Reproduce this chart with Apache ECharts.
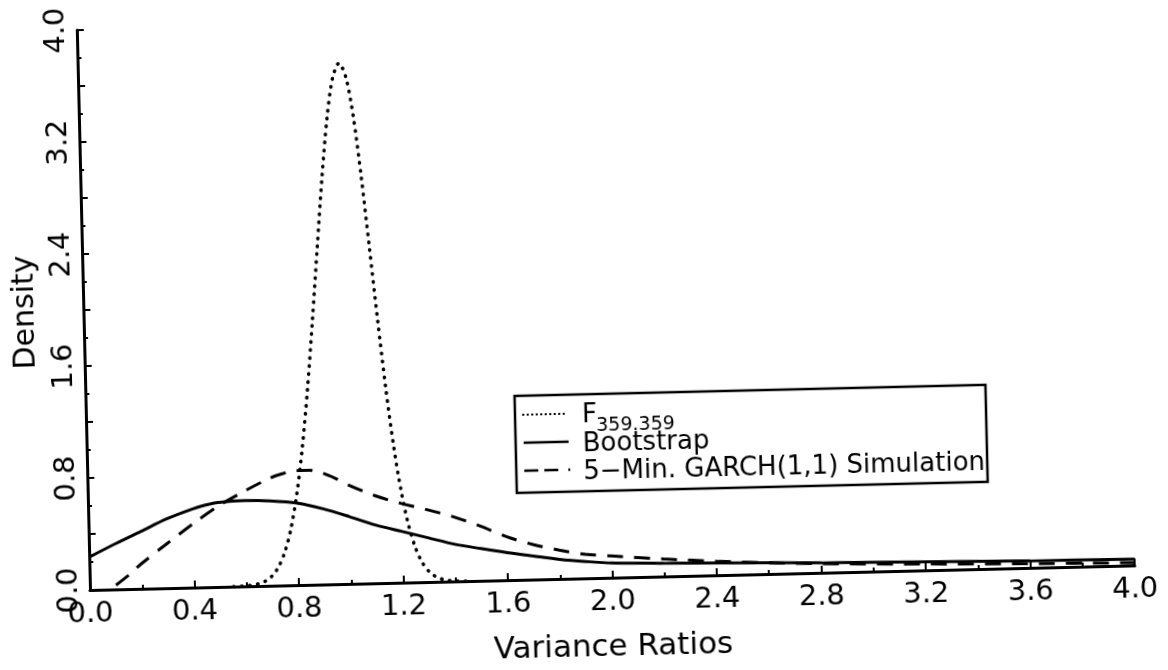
<!DOCTYPE html>
<html>
<head>
<meta charset="utf-8">
<script src="https://cdn.jsdelivr.net/npm/echarts/dist/echarts.min.js"></script>
<style>
  html, body { margin: 0; padding: 0; background: #fff; overflow: hidden; }
  #chart {
    width: 1168px; height: 710px;
    /* the printed figure sits slightly tilted on the page */
    transform-origin: 90px 590px;
    transform: rotate(-1.35deg);
  }
</style>
</head>
<body>
<div id="chart"></div>
<script>
// Tick values on each axis
const ratioTicks = [0, 0.4, 0.8, 1.2, 1.6, 2.0, 2.4, 2.8, 3.2, 3.6, 4.0];
const densityTicks = [0, 0.8, 1.6, 2.4, 3.2, 4.0];

// F(359,359) density
const fX = [0.55, 0.575, 0.6, 0.625, 0.65, 0.675, 0.7, 0.725, 0.75, 0.775, 0.8, 0.825, 0.85, 0.875, 0.9, 0.925, 0.95, 0.975,
            1.0, 1.025, 1.05, 1.075, 1.1, 1.125, 1.15, 1.175, 1.2, 1.225, 1.25, 1.275, 1.3, 1.325, 1.35, 1.375, 1.4, 1.425, 1.45];
const fY = [0.000, 0.001, 0.003, 0.008, 0.018, 0.037, 0.073, 0.137, 0.243, 0.408, 0.649, 0.977, 1.392, 1.88, 2.40, 2.91, 3.34, 3.62,
            3.72, 3.62, 3.34, 2.91, 2.40, 1.88, 1.392, 0.977, 0.649, 0.408, 0.243, 0.137, 0.073, 0.037, 0.018, 0.008, 0.003, 0.001, 0.000];

// Bootstrap density
const bootX = [0, 0.1, 0.2, 0.3, 0.4, 0.45, 0.5, 0.6, 0.7, 0.8, 0.9, 1.0, 1.1, 1.2, 1.3, 1.4, 1.5, 1.6, 1.7, 1.8, 1.9, 2.0, 2.2, 2.4, 2.8, 3.2, 3.6, 4.0];
const bootY = [0.235, 0.325, 0.41, 0.495, 0.562, 0.587, 0.603, 0.612, 0.605, 0.585, 0.54, 0.48, 0.415, 0.365, 0.315, 0.265, 0.23, 0.197, 0.168, 0.14, 0.12, 0.105, 0.095, 0.088, 0.072, 0.06, 0.05, 0.045];

// 5-minute GARCH(1,1) simulation density
const garchX = [0.1, 0.15, 0.2, 0.3, 0.4, 0.5, 0.6, 0.7, 0.75, 0.8, 0.85, 0.9, 0.95, 1.0, 1.1, 1.2, 1.3, 1.4, 1.5, 1.6, 1.7, 1.8, 1.9, 2.0, 2.2, 2.4, 2.6, 2.8, 3.2, 3.6, 4.0];
const garchY = [0.03, 0.10, 0.18, 0.32, 0.455, 0.58, 0.68, 0.77, 0.80, 0.818, 0.818, 0.795, 0.755, 0.705, 0.625, 0.565, 0.515, 0.46, 0.39, 0.31, 0.25, 0.205, 0.172, 0.155, 0.125, 0.10, 0.08, 0.065, 0.045, 0.03, 0.02];

const seriesNames = ['F', 'Bootstrap', '5\u2212Min. GARCH(1,1) Simulation'];
const fSubscript = '359.359';

const pairs = (xs, ys) => xs.map((x, i) => [x, ys[i]]);
const FONT = 'DejaVu Sans';
const near = (v, list) => list.some(t => Math.abs(t - v) < 1e-6);

const axisCommon = {
  type: 'value', min: 0, max: 4, interval: 0.4,
  axisLine: { show: true, lineStyle: { color: '#000', width: 3 } },
  axisTick: { show: true, inside: true, length: 7, lineStyle: { color: '#000', width: 2 } },
  minorTick: { show: true, splitNumber: 2, length: 4, lineStyle: { color: '#000', width: 2 } },
  splitLine: { show: false },
  minorSplitLine: { show: false }
};

const chart = echarts.init(document.getElementById('chart'), null, { renderer: 'canvas' });
chart.setOption({
  animation: false,
  backgroundColor: '#fff',
  grid: { left: 90, top: 30, width: 1045, height: 560 },
  xAxis: Object.assign({}, axisCommon, {
    axisLabel: {
      color: '#000', fontFamily: FONT, fontSize: 29, margin: 10,
      formatter: v => near(v, ratioTicks) ? v.toFixed(1) : ''
    }
  }),
  yAxis: Object.assign({}, axisCommon, {
    axisLabel: {
      color: '#000', fontFamily: FONT, fontSize: 29, margin: 6, rotate: 90,
      formatter: v => near(v, densityTicks) ? v.toFixed(1) : ''
    }
  }),
  series: [
    {
      name: seriesNames[0], type: 'line', data: pairs(fX, fY), smooth: 0.3,
      showSymbol: false, z: 3,
      lineStyle: { color: '#000', width: 3.5, type: [0.5, 7.5], cap: 'round' }
    },
    {
      name: seriesNames[1], type: 'line', data: pairs(bootX, bootY), smooth: 0.3,
      showSymbol: false, z: 2,
      lineStyle: { color: '#000', width: 3, type: 'solid' }
    },
    {
      name: seriesNames[2], type: 'line', data: pairs(garchX, garchY), smooth: 0.3,
      showSymbol: false, z: 2,
      lineStyle: { color: '#000', width: 3, type: [16, 11] }
    }
  ],
  graphic: [
    // axis titles
    { type: 'text', x: 612, y: 660, z: 50,
      style: { text: 'Variance Ratios', font: '31px "DejaVu Sans"', fill: '#000', align: 'center', verticalAlign: 'middle' } },
    { type: 'text', x: 32, y: 311, rotation: Math.PI / 2, z: 50,
      style: { text: 'Density', font: '30px "DejaVu Sans"', fill: '#000', align: 'center', verticalAlign: 'middle' } },
    // key box
    { type: 'rect', z: 60, shape: { x: 519, y: 406, width: 471, height: 97 },
      style: { fill: '#fff', stroke: '#000', lineWidth: 2.5 } },
    { type: 'line', z: 61, shape: { x1: 527, y1: 425, x2: 572, y2: 425 },
      style: { stroke: '#000', lineWidth: 2, lineDash: [0.5, 4], lineCap: 'round' } },
    { type: 'line', z: 61, shape: { x1: 527, y1: 453, x2: 572, y2: 453 },
      style: { stroke: '#000', lineWidth: 2.5 } },
    { type: 'line', z: 61, shape: { x1: 527, y1: 481, x2: 574, y2: 481 },
      style: { stroke: '#000', lineWidth: 2.5, lineDash: [14, 6, 14, 10, 2, 100] } },
    { type: 'text', x: 586, y: 427, z: 61,
      style: { text: seriesNames[0], font: '26px "DejaVu Sans"', fill: '#000', align: 'left', verticalAlign: 'middle' } },
    { type: 'text', x: 600, y: 438, z: 61,
      style: { text: fSubscript, font: '19px "DejaVu Sans"', fill: '#000', align: 'left', verticalAlign: 'middle' } },
    { type: 'text', x: 586, y: 456, z: 61,
      style: { text: seriesNames[1], font: '26px "DejaVu Sans"', fill: '#000', align: 'left', verticalAlign: 'middle' } },
    { type: 'text', x: 586, y: 484, z: 61,
      style: { text: seriesNames[2], font: '26px "DejaVu Sans"', fill: '#000', align: 'left', verticalAlign: 'middle' } }
  ]
});
</script>
</body>
</html>
